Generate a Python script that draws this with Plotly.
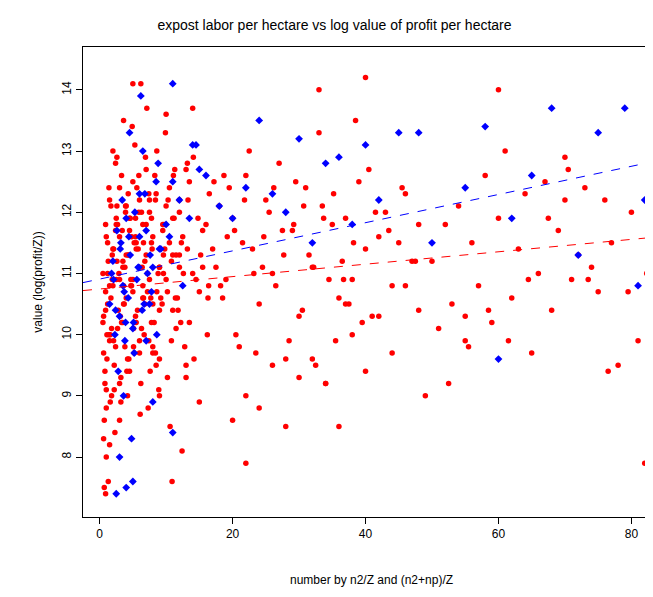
import plotly.graph_objects as go

red_x = [0.5,0.8,1.0,1.2,1.5,1.7,2.0,2.2,2.5,2.8,3.0,3.3,3.5,3.8,4.0,4.3,4.5,4.8,5.0,5.3,5.5,5.8,6.0,6.3,6.5,6.8,7.0,7.4,7.8,8.0,8.4,8.8,9.0,9.5,10.0,10.5,11.0,11.5,12.0,12.5,13.0,13.5,14.0,15.0,16.0,
 0.6,0.9,1.1,1.4,1.6,1.9,2.1,2.4,2.7,2.9,3.2,3.4,3.7,3.9,4.2,4.4,4.7,4.9,5.2,5.4,5.7,5.9,6.2,6.4,6.7,6.9,7.2,7.6,7.9,8.2,8.6,9.2,9.7,10.2,10.8,11.3,11.8,12.3,12.8,13.3,14.5,15.5,16.5,17.5,
 0.7,1.0,1.3,1.8,2.3,2.6,3.1,3.6,4.1,4.6,5.1,5.6,6.1,6.6,7.1,7.7,8.3,8.9,9.4,9.9,10.6,11.2,12.2,13.2,14.2,15.2,16.2,17.2,18.2,19.2,
 0.5,0.9,1.2,1.6,2.0,2.5,3.0,3.5,4.0,4.5,5.0,5.5,6.0,6.5,7.0,7.5,8.0,9.0,10.0,11.0,12.0,13.0,14.0,15.0,
 0.8,1.1,1.5,2.1,2.6,3.2,3.8,4.4,5.2,6.2,7.3,8.5,9.6,10.9,12.4,
 0.6,0.9,1.3,1.7,2.2,2.7,3.3,3.9,4.7,5.4,6.3,7.4,8.6,9.8,11.1,12.6,14.1,
 0.7,1.0,1.4,1.9,2.4,3.0,3.6,4.3,5.1,5.9,6.8,7.8,9.0,10.3,11.7,13.2,14.8,16.4,
 1.0,1.5,2.0,2.5,3.0,3.5,4.0,4.5,5.0,5.5,6.0,6.5,7.0,7.5,8.0,8.5,9.0,9.5,10.0,10.5,11.0,12.0,13.0,
 0.6,1.2,1.8,2.4,3.0,3.6,4.2,4.8,5.4,6.0,6.6,7.2,7.8,8.4,9.0,9.6,10.2,10.8,11.4,12.0,13.5,15.5,
 18,19,20,21,22,23,24,25,26,27,28,29,30,31,32,33,34,35,36,37,38,39,40,41,42,43,44,45,46,47,48,
 18.5,19.5,20.5,21.5,22.5,23.5,24.5,25.5,26.5,27.5,28.5,29.5,30.5,31.5,32.5,33.5,34.5,35.5,36.5,37.5,38.5,39.5,40.5,
 20,22,24,26,28,30,32,34,36,38,40,42,44,46,
 17,18.7,20.3,21.8,23.2,24.7,26.2,27.7,29.2,30.7,32.2,33.7,35.2,36.7,38.2,41.5,43.5,45.5,47.5,
 50,51,52,53,54,55,56,57,58,59,60,61,62,63,64,65,66,67,68,69,70,71,72,73,74,75,76,77,78,80,81,82,
 49,52.5,55.5,58.5,61.5,64.5,67.5,70.5,73.5,76.5,79.5,
 7.5,11.5,16.3,2.6,40,33,60,70,82.3,22,5,1.5,0.9,8,37,48,55]
red_y = [10.2,9.4,8.8,11.5,9.9,12.1,10.8,9.1,11.9,10.4,8.6,12.6,11.1,9.8,10.6,12.3,9.4,11.6,10.9,13.1,10.2,11.4,9.7,12.0,10.8,11.2,12.7,9.9,11.5,10.5,12.2,11.0,9.6,11.7,10.9,12.4,11.3,10.1,12.0,11.6,9.5,12.5,11.0,10.7,11.8,
 8.3,10.7,9.6,12.4,8.9,11.3,9.9,12.8,10.1,11.0,9.3,11.7,10.5,12.0,9.0,11.3,10.8,13.4,9.7,11.9,10.4,12.6,9.2,11.1,10.0,12.9,10.7,9.4,11.4,10.2,13.0,10.6,11.8,9.3,11.2,12.7,10.4,11.5,9.8,12.2,10.9,11.7,12.3,11.1,
 7.5,8.0,7.6,9.0,8.4,12.9,10.3,13.5,9.4,11.9,10.1,12.4,8.7,11.5,13.7,10.6,12.6,9.1,10.5,13.3,8.5,11.9,10.2,12.8,9.6,11.3,10.0,12.5,10.8,11.6,
 11.0,11.8,10.5,10.0,13.0,10.9,11.6,10.2,11.3,11.9,10.7,11.4,11.1,10.6,11.8,12.2,9.8,11.1,13.6,10.4,11.1,9.3,13.7,8.9,
 9.2,10.0,10.8,11.4,12.1,8.9,11.1,9.6,11.5,14.1,8.8,9.5,11.3,7.6,8.1,
 9.7,10.4,11.2,10.6,9.5,11.8,10.2,12.1,10.9,11.6,10.1,12.3,10.7,11.4,12.6,11.0,12.9,
 8.6,9.1,10.0,10.9,11.7,9.2,10.8,11.3,9.8,12.0,10.5,11.9,9.0,12.2,10.6,11.4,11.9,10.8,
 11.6,12.2,11.4,11.8,12.4,11.2,12.1,11.7,12.5,11.5,12.2,11.8,11.3,12.0,11.6,12.3,11.1,11.8,12.1,11.5,11.9,12.2,12.7,
 10.3,11.0,10.1,9.8,10.9,10.5,9.6,10.8,10.3,9.9,10.6,11.0,10.2,9.7,10.4,11.0,10.7,9.9,10.6,11.3,10.2,11.1,
 12.1,10.9,11.9,9.8,12.6,11.4,10.5,12.2,11.0,12.8,9.6,11.7,10.3,12.4,11.1,13.3,9.2,11.8,10.6,11.9,10.9,12.5,11.4,10.3,11.6,12.0,10.8,11.5,12.3,11.2,10.4,
 10.6,12.4,10.0,11.5,13.0,9.7,11.1,12.0,10.8,11.7,9.9,12.5,10.4,11.3,9.5,12.1,10.9,9.9,11.2,10.5,13.5,10.2,12.7,
 8.6,9.0,8.8,9.5,8.5,9.3,9.6,9.2,8.5,10.0,9.4,10.3,9.7,10.8,
 11.4,12.6,11.7,12.2,11.0,11.6,12.4,11.3,11.8,12.1,11.1,11.9,12.3,10.9,11.5,12.0,11.7,12.4,11.2,
 11.2,10.1,11.8,10.5,12.1,9.9,11.5,10.8,12.6,10.2,11.9,13.0,10.6,11.4,12.3,9.7,11.0,12.5,10.4,11.7,12.9,10.9,11.3,12.4,11.1,10.7,12.2,11.5,9.5,12.0,9.9,7.9,
 9.0,9.2,9.8,10.4,9.9,10.9,11.9,12.7,10.9,9.4,10.7,
 10.9,11.3,10.6,11.2,14.2,14.0,14.0,12.2,11.0,7.9,14.1,8.2,7.4,9.7,10.5,11.8,10.3]
blue_x = [1.5,2.0,2.3,2.6,3.0,3.2,3.5,3.8,4.0,4.3,4.6,5.0,5.3,5.6,6.0,6.4,6.8,7.2,7.8,8.5,9.2,10.0,11.0,12.0,13.5,15.0,
 2.1,2.8,3.4,3.9,4.5,5.2,5.8,6.5,7.5,8.8,10.5,12.5,14.5,
 2.5,3.6,4.8,6.2,7.0,8.0,9.0,11.0,
 1.8,2.4,3.1,3.7,4.4,5.1,5.9,6.7,7.6,8.6,
 16,18,20,22,24,26,28,30,32,34,36,38,40,42,45,48,50,55,58,60,62,65,68,72,75,79,81,82,
 3,4,5,6,7,8,11,14]
blue_y = [10.5,11.2,10.0,11.7,10.3,11.5,10.8,9.9,11.9,10.6,11.3,10.1,12.0,10.9,11.6,10.4,12.3,11.0,10.7,12.5,11.4,11.8,14.1,12.2,11.9,12.7,
 10.9,9.4,12.2,10.2,13.3,9.7,11.1,13.0,10.5,12.8,11.6,10.8,13.1,
 7.4,9.0,8.3,13.9,9.9,8.9,11.4,8.4,
 11.0,10.4,11.4,10.7,11.6,10.2,11.1,10.5,11.3,10.0,
 12.6,12.1,11.9,12.4,13.5,12.3,12.0,13.2,11.5,12.8,12.9,11.8,13.1,12.2,13.3,13.3,11.5,12.4,13.4,9.6,11.9,12.6,13.7,11.3,13.3,13.7,10.8,12.2,
 8.0,7.5,7.6,12.3,11.7,11.1,12.5,13.1]
fit_x = [-2.5, 84.3]
blue_fit = [10.85, 12.85]
red_fit = [10.72, 11.6]

fig = go.Figure()
fig.add_trace(go.Scatter(x=red_x, y=red_y, mode="markers", marker=dict(color="red", size=5.5, symbol="circle")))
fig.add_trace(go.Scatter(x=blue_x, y=blue_y, mode="markers", marker=dict(color="blue", size=6, symbol="diamond")))
fig.add_trace(go.Scatter(x=fit_x, y=blue_fit, mode="lines", line=dict(color="blue", dash="dash", width=1)))
fig.add_trace(go.Scatter(x=fit_x, y=red_fit, mode="lines", line=dict(color="red", dash="dash", width=1)))

ax = dict(showgrid=False, zeroline=False, showline=True, mirror=True, linecolor="black", linewidth=1,
          ticks="outside", ticklen=6, tickcolor="black", tickfont=dict(size=12, color="black"))
fig.update_layout(
    width=653, height=597, showlegend=False, plot_bgcolor="white", paper_bgcolor="white",
    font=dict(family="Liberation Sans, Arial", color="black"),
    margin=dict(l=75, r=1, t=39, b=88),
    title=dict(text="expost labor per hectare vs log value of profit per hectare", x=0.5, y=0.972, yanchor="middle", xanchor="center", font=dict(size=14)),
    xaxis=dict(ax, range=[-2.5, 84.3], tickvals=[0,20,40,60,80],
               title=dict(text="number by n2/Z and (n2+np)/Z", font=dict(size=12), standoff=35)),
    yaxis=dict(ax, range=[7.02, 14.7], tickvals=[8,9,10,11,12,13,14], tickangle=-90,
               title=dict(text="value (log(profit/Z))", font=dict(size=12), standoff=15)),
)
fig.write_html("out.html")
